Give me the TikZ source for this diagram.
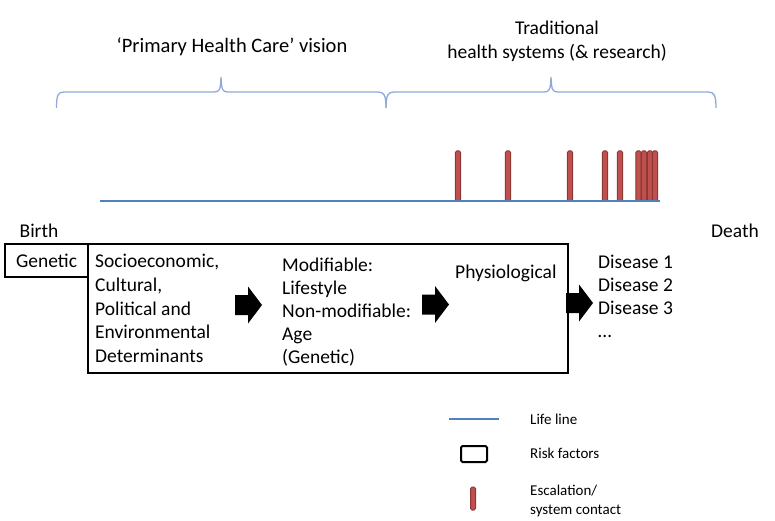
\documentclass[tikz,border=0pt]{standalone}
\usepackage{fontspec}
\setmainfont{Carlito}
\definecolor{bracecol}{RGB}{143,170,218}
\definecolor{lifecol}{RGB}{79,129,189}
\definecolor{barfill}{RGB}{192,80,77}
\definecolor{bardraw}{RGB}{140,56,54}
\tikzset{
  bigtxt/.style={font=\fontsize{19.5}{23.6}\selectfont, inner sep=0pt, align=left},
  legtxt/.style={font=\fontsize{15}{19}\selectfont, inner sep=0pt, align=left, anchor=base west},
  brace/.style={draw=bracecol, line width=1.3pt},
  lifeline/.style={draw=lifecol, line width=2pt},
  riskbox/.style={draw=black, line width=2pt},
  escbar/.style={fill=barfill, draw=bardraw, line width=1pt, rounded corners=1.5pt},
  fatarrow/.pic={\fill[black] (0,-10) -- (13,-10) -- (13,-18.5) -- (27,0) -- (13,18.5) -- (13,10) -- (0,10) -- cycle;}
}
\begin{document}
\begin{tikzpicture}[x=1pt,y=-1pt]
\useasboundingbox (0,0) rectangle (775,521);
% titles
\node[bigtxt, font=\fontsize{20.5}{24}\selectfont] (phc) at (232,47) {‘Primary Health Care’ vision};
\node[bigtxt, align=center, font=\fontsize{19.5}{24}\selectfont, anchor=base] (trad) at (557,59) {Traditional\\health systems (\& research)};
% braces
\draw[brace] (56.5,108) .. controls (56.5,95) and (58,92) .. (64,92) -- (214,92)
  .. controls (219.5,92) and (220.5,90) .. (221,77)
  .. controls (221.5,90) and (222.5,92) .. (228,92) -- (378,92)
  .. controls (384,92) and (386,95) .. (386,108);
\draw[brace] (386,108) .. controls (386,95) and (388,92) .. (394,92) -- (544,92)
  .. controls (549.5,92) and (550.5,90) .. (551,77)
  .. controls (551.5,90) and (552.5,92) .. (558,92) -- (708,92)
  .. controls (714,92) and (716,95) .. (716,108);
% escalation bars
\foreach \xx in {458,508,570,605,620,638.5,644,650,655}
  \draw[escbar] (\xx-2.7,151) rectangle (\xx+2.7,201);
% life line
\coordinate (lstart) at (100,201);
\coordinate (lend) at (660,201);
\draw[lifeline] (lstart) -- (lend);
% birth / death
\node[bigtxt] (birth) at (39,231) {Birth};
\node[bigtxt] (death) at (735,231) {Death};
% boxes
\draw[riskbox] (5,244) rectangle (88,277);
\node[bigtxt] (gen) at (46.5,261) {Genetic};
\draw[riskbox] (88,244) rectangle (568,373);
\node[bigtxt, anchor=base west, font=\fontsize{19.5}{23.75}\selectfont] (socio) at (95,362.5) {Socioeconomic,\\Cultural,\\Political and\\Environmental\\Determinants};
\node[bigtxt, anchor=base west, font=\fontsize{19.5}{23}\selectfont] (modif) at (282,363.5) {Modifiable:\\Lifestyle\\Non-modifiable:\\Age\\(Genetic)};
\node[bigtxt, anchor=base west] (phys) at (455,278.5) {Physiological};
\node[bigtxt, anchor=base west, font=\fontsize{19.5}{23}\selectfont] (dis) at (598,337.5) {Disease 1\\Disease 2\\Disease 3\\…};
% fat arrows
\pic at (235,305) {fatarrow};
\pic at (422,304.5) {fatarrow};
\pic at (566,303) {fatarrow};
% legend
\coordinate (la) at (449,419);
\coordinate (lb) at (499,419);
\draw[lifeline] (la) -- (lb);
\node[legtxt] (l1) at (530,424) {Life line};
\draw[riskbox, rounded corners=1.5pt] (461,446) rectangle (487,462);
\node[legtxt] (l2) at (530,458.5) {Risk factors};
\draw[escbar] (470.5,487) rectangle (475.5,510);
\node[legtxt] (l3) at (530,514) {Escalation/\\system contact};
\end{tikzpicture}
\end{document}
